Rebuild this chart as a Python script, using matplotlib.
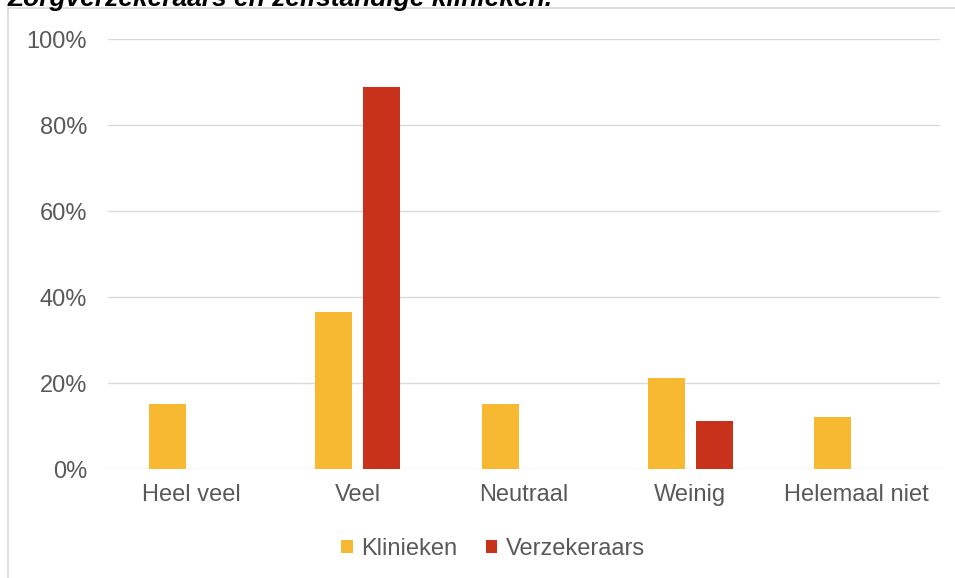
import matplotlib.pyplot as plt
from matplotlib.lines import Line2D
import numpy as np

plt.rcParams['font.family'] = ['Liberation Sans', 'DejaVu Sans']

# Data
categories = ['Heel veel', 'Veel', 'Neutraal', 'Weinig', 'Helemaal niet']
klinieken = [0.152, 0.364, 0.152, 0.212, 0.121]
verzekeraars = [0.0, 0.889, 0.0, 0.111, 0.0]
yticks = [0, 0.2, 0.4, 0.6, 0.8, 1.0]
ytick_labels = ['0%', '20%', '40%', '60%', '80%', '100%']

W, H = 955, 578
fig = plt.figure(figsize=(W / 100, H / 100), dpi=100)
ax = fig.add_axes([108 / W, 1 - 469 / H, (940 - 108) / W, (469 - 39) / H])

text_col = '#595959'
grid_col = '#D9D9D9'
col_k = '#F8B932'
col_v = '#C9321A'

x = np.arange(len(categories))
bw = 0.222
off = 0.144
ax.bar(x - off, klinieken, bw, color=col_k, label='Klinieken', zorder=3)
ax.bar(x + off, verzekeraars, bw, color=col_v, label='Verzekeraars', zorder=3)

ax.set_xlim(-0.5, len(categories) - 0.5)
ax.set_ylim(0, 1.0)
ax.set_yticks(yticks)
ax.set_yticklabels(ytick_labels)
ax.set_xticks(x)
ax.set_xticklabels(categories)
ax.tick_params(length=0, labelsize=17, colors=text_col)
ax.tick_params(axis='y', pad=15)
ax.tick_params(axis='x', pad=11)
ax.grid(axis='y', color=grid_col, linewidth=1, zorder=0)
for s in ax.spines.values():
    s.set_visible(False)

# chart frame
fig.add_artist(Line2D([8 / W, 1], [1 - 8 / H, 1 - 8 / H], color=grid_col, lw=1.2))
fig.add_artist(Line2D([8 / W, 8 / W], [0, 1 - 8 / H], color=grid_col, lw=1.2))

# title (cut off at top, as in the source)
fig.text(8 / W, 1 - 6 / H, 'Zorgverzekeraars en zelfstandige klinieken.',
         fontsize=19, fontweight='bold', fontstyle='italic', color='black',
         va='baseline', ha='left')

fig.legend(loc='center', bbox_to_anchor=(493 / W, 1 - 549 / H), ncol=2,
           frameon=False, fontsize=17, labelcolor=text_col,
           handlelength=0.5, handleheight=0.5, handletextpad=0.35,
           columnspacing=1.2)

fig.savefig('out.png', dpi=100)
